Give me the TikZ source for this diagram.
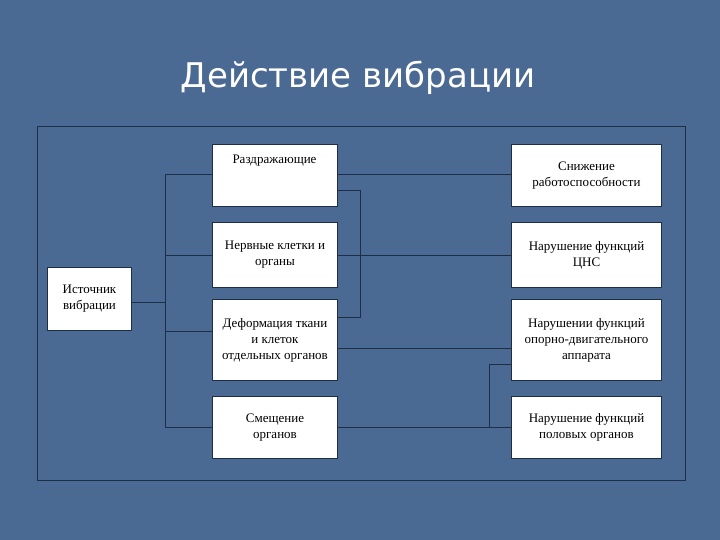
\documentclass[tikz,border=0pt]{standalone}
\usepackage{fontspec}
\setmainfont{Liberation Serif}
\newfontfamily\titlefont{DejaVu Sans}
\definecolor{bg}{HTML}{4A6A94}
\definecolor{ln}{HTML}{1E2E45}
\begin{document}
\begin{tikzpicture}[x=1pt,y=-1pt,
  bx/.style={draw=ln,fill=white,line width=1pt,align=center,font=\fontsize{13}{16}\selectfont,anchor=north west,inner sep=0pt},
  cn/.style={draw=ln,line width=1pt}]
\fill[bg] (0,0) rectangle (720,540);
\useasboundingbox (0,0) rectangle (720,540);
\node[font=\titlefont\fontsize{34}{40}\selectfont,text=white] (title) at (358,78) {Действие вибрации};
\draw[ln,line width=1pt] (37,127) rectangle (685,480);
\node[bx,minimum width=84pt,minimum height=63pt] (src) at (47,267) {Источник\\вибрации};
\node[bx,minimum width=125pt,minimum height=62pt] (m1) at (212,144) {};
\node[anchor=north,font=\fontsize{13}{16}\selectfont] (m1t) at (274.5,151) {Раздражающие};
\node[bx,minimum width=125pt,minimum height=65pt] (m2) at (212,222) {Нервные клетки и\\органы};
\node[bx,minimum width=125pt,minimum height=81pt] (m3) at (212,299) {Деформация ткани\\и клеток\\отдельных органов};
\node[bx,minimum width=125pt,minimum height=62pt] (m4) at (212,396) {Смещение\\органов};
\node[bx,minimum width=150pt,minimum height=62pt] (r1) at (511,144) {Снижение\\работоспособности};
\node[bx,minimum width=150pt,minimum height=65pt] (r2) at (511,222) {Нарушение функций\\ЦНС};
\node[bx,minimum width=150pt,minimum height=81pt] (r3) at (511,299) {Нарушении функций\\опорно-двигательного\\аппарата};
\node[bx,minimum width=150pt,minimum height=62pt] (r4) at (511,396) {Нарушение функций\\половых органов};
\coordinate (b1) at (165,175); \coordinate (b4) at (165,427);
\draw[cn] (b1) -- (b4);
\draw[cn] (src.east |- 0,302) -- (165,302);
\draw[cn] (b1) -- (m1.west |- b1);
\draw[cn] (165,255) -- (m2.west |- 0,255);
\draw[cn] (165,331) -- (m3.west |- 0,331);
\draw[cn] (b4) -- (m4.west |- b4);
\draw[cn] (m1.east |- 0,175) -- (r1.west |- 0,175);
\draw[cn] (m1.east |- 0,191) -- (360,191) -- (360,317) -- (m3.east |- 0,317);
\draw[cn] (m2.east |- 0,255) -- (r2.west |- 0,255);
\draw[cn] (m3.east |- 0,348) -- (r3.west |- 0,348);
\draw[cn] (m4.east |- 0,427) -- (r4.west |- 0,427);
\draw[cn] (489,427) -- (489,364) -- (r3.west |- 0,364);
\end{tikzpicture}
\end{document}
